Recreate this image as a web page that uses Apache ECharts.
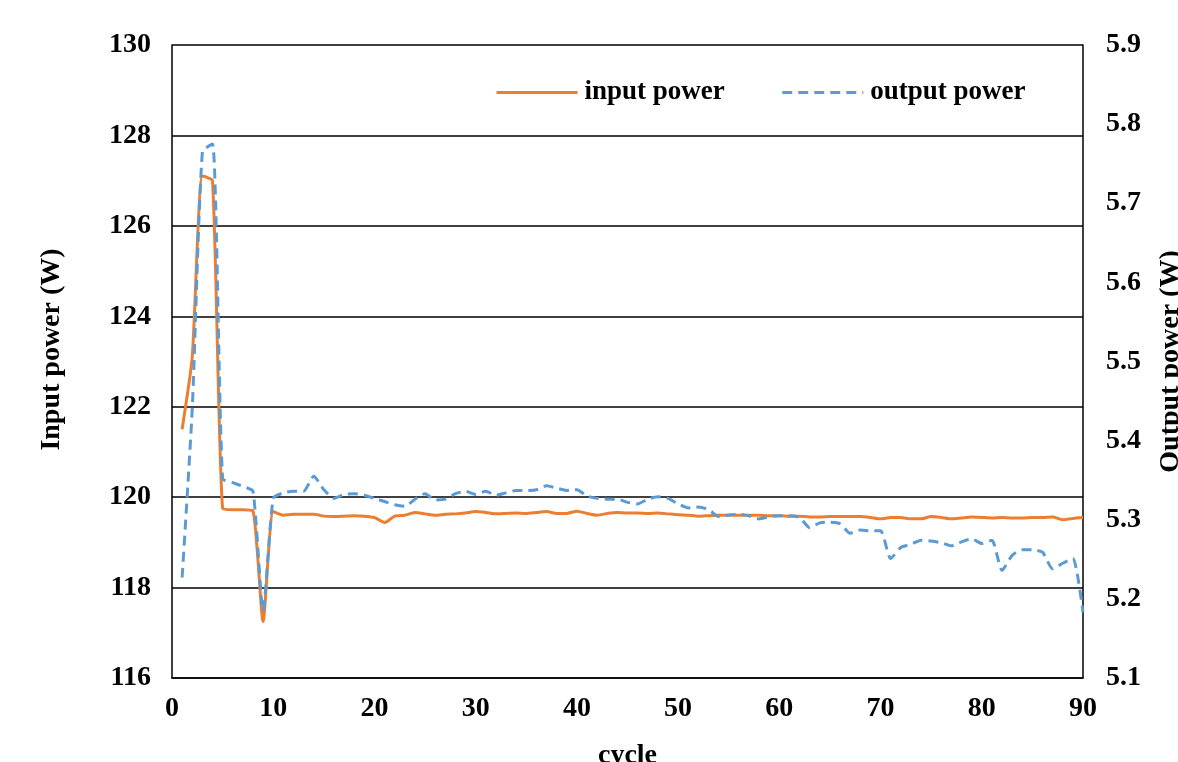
<!DOCTYPE html>
<html>
<head>
<meta charset="utf-8">
<script src="https://cdn.jsdelivr.net/npm/echarts@6/dist/echarts.min.js"></script>
<style>html,body{margin:0;padding:0;background:#fff;overflow:hidden;}#c{width:1178px;height:762px;}</style>
</head>
<body>
<div id="c"></div>
<script>
const cycles = Array.from({length: 90}, (_, i) => i + 1);
const inputPower = [
  121.5, 123.1, 127.1, 127.0, 119.75, 119.72, 119.72, 119.7, 117.25, 119.68,
  119.6, 119.62, 119.62, 119.62, 119.58, 119.57, 119.58, 119.59, 119.58, 119.55,
  119.44, 119.58, 119.6, 119.66, 119.63, 119.6, 119.62, 119.63, 119.65, 119.68,
  119.66, 119.63, 119.64, 119.65, 119.64, 119.66, 119.68, 119.64, 119.64, 119.69,
  119.64, 119.6, 119.64, 119.66, 119.65, 119.65, 119.64, 119.65, 119.63, 119.61,
  119.6, 119.58, 119.59, 119.6, 119.6, 119.6, 119.6, 119.6, 119.59, 119.59,
  119.58, 119.58, 119.56, 119.56, 119.57, 119.57, 119.57, 119.57, 119.55, 119.52,
  119.55, 119.55, 119.52, 119.52, 119.57, 119.55, 119.52, 119.54, 119.56, 119.55,
  119.54, 119.55, 119.54, 119.54, 119.55, 119.55, 119.56, 119.5, 119.53, 119.55
];
const outputPower = [
  5.227, 5.44, 5.765, 5.775, 5.352, 5.347, 5.342, 5.336, 5.185, 5.327,
  5.334, 5.336, 5.336, 5.355, 5.338, 5.327, 5.332, 5.333, 5.331, 5.327,
  5.323, 5.319, 5.317, 5.326, 5.333, 5.325, 5.326, 5.333, 5.336, 5.332,
  5.336, 5.331, 5.334, 5.337, 5.337, 5.338, 5.343, 5.340, 5.337, 5.338,
  5.330, 5.327, 5.326, 5.326, 5.322, 5.320, 5.326, 5.329, 5.327, 5.320,
  5.315, 5.316, 5.313, 5.304, 5.306, 5.307, 5.305, 5.301, 5.304, 5.305,
  5.305, 5.303, 5.290, 5.296, 5.297, 5.295, 5.283, 5.287, 5.286, 5.286,
  5.251, 5.265, 5.269, 5.274, 5.273, 5.271, 5.267, 5.272, 5.276, 5.270,
  5.274, 5.236, 5.255, 5.262, 5.262, 5.259, 5.238, 5.245, 5.251, 5.183
];
const seriesNames = ['input power', 'output power'];
const xTitle = 'cycle';
const yLeftTitle = 'Input power (W)';
const yRightTitle = 'Output power (W)';

const FONT = "'Liberation Serif', 'Times New Roman', serif";
const txt = {fontFamily: FONT, fontWeight: 'bold', fontSize: 28, color: '#000'};

const chart = echarts.init(document.getElementById('c'), null, {renderer: 'canvas'});
chart.setOption({
  backgroundColor: '#fff',
  animation: false,
  grid: {left: 172, right: 95, top: 45, bottom: 84, containLabel: false, outerBoundsMode: 'none'},
  legend: {
    left: 490, top: 74,
    itemWidth: 81, itemHeight: 14, itemGap: 56,
    itemStyle: {opacity: 0},
    lineStyle: {width: 3},
    textStyle: Object.assign({}, txt, {fontSize: 27, padding: [0, 0, 0, 2]}),
    data: seriesNames
  },
  xAxis: {
    type: 'value', min: 0, max: 90, interval: 10,
    name: xTitle, nameLocation: 'middle', nameGap: 64,
    nameTextStyle: txt,
    axisLine: {show: true, lineStyle: {color: '#000', width: 1.5}},
    axisTick: {show: false},
    axisLabel: Object.assign({}, txt, {margin: 17}),
    splitLine: {show: false}
  },
  yAxis: [
    {
      type: 'value', min: 116, max: 130, interval: 2, position: 'left',
      name: yLeftTitle, nameLocation: 'middle', nameGap: 106, nameRotate: 90,
      nameTextStyle: Object.assign({}, txt, {padding: [0, 0, 0, 24]}),
      axisLine: {show: true, lineStyle: {color: '#000', width: 1.5}},
      axisTick: {show: false},
      axisLabel: Object.assign({}, txt, {margin: 21}),
      splitLine: {show: true, lineStyle: {color: '#000', width: 1.5}}
    },
    {
      type: 'value', min: 5.1, max: 5.9, interval: 0.1, position: 'right',
      name: yRightTitle, nameLocation: 'middle', nameGap: 74, nameRotate: 90,
      nameTextStyle: txt,
      axisLine: {show: true, lineStyle: {color: '#000', width: 1.5}},
      axisTick: {show: false},
      axisLabel: Object.assign({}, txt, {margin: 23, formatter: v => v.toFixed(1)}),
      splitLine: {show: false}
    }
  ],
  series: [
    {
      name: seriesNames[0], type: 'line', yAxisIndex: 0,
      data: cycles.map((c, i) => [c, inputPower[i]]),
      symbol: 'none', smooth: 0.2,
      lineStyle: {color: '#ED7D31', width: 3},
      itemStyle: {color: '#ED7D31'}
    },
    {
      name: seriesNames[1], type: 'line', yAxisIndex: 1,
      data: cycles.map((c, i) => [c, outputPower[i]]),
      symbol: 'none', smooth: 0.2,
      lineStyle: {color: '#5B9BD5', width: 3, type: [10, 6]},
      itemStyle: {color: '#5B9BD5'}
    }
  ]
});
</script>
</body>
</html>
